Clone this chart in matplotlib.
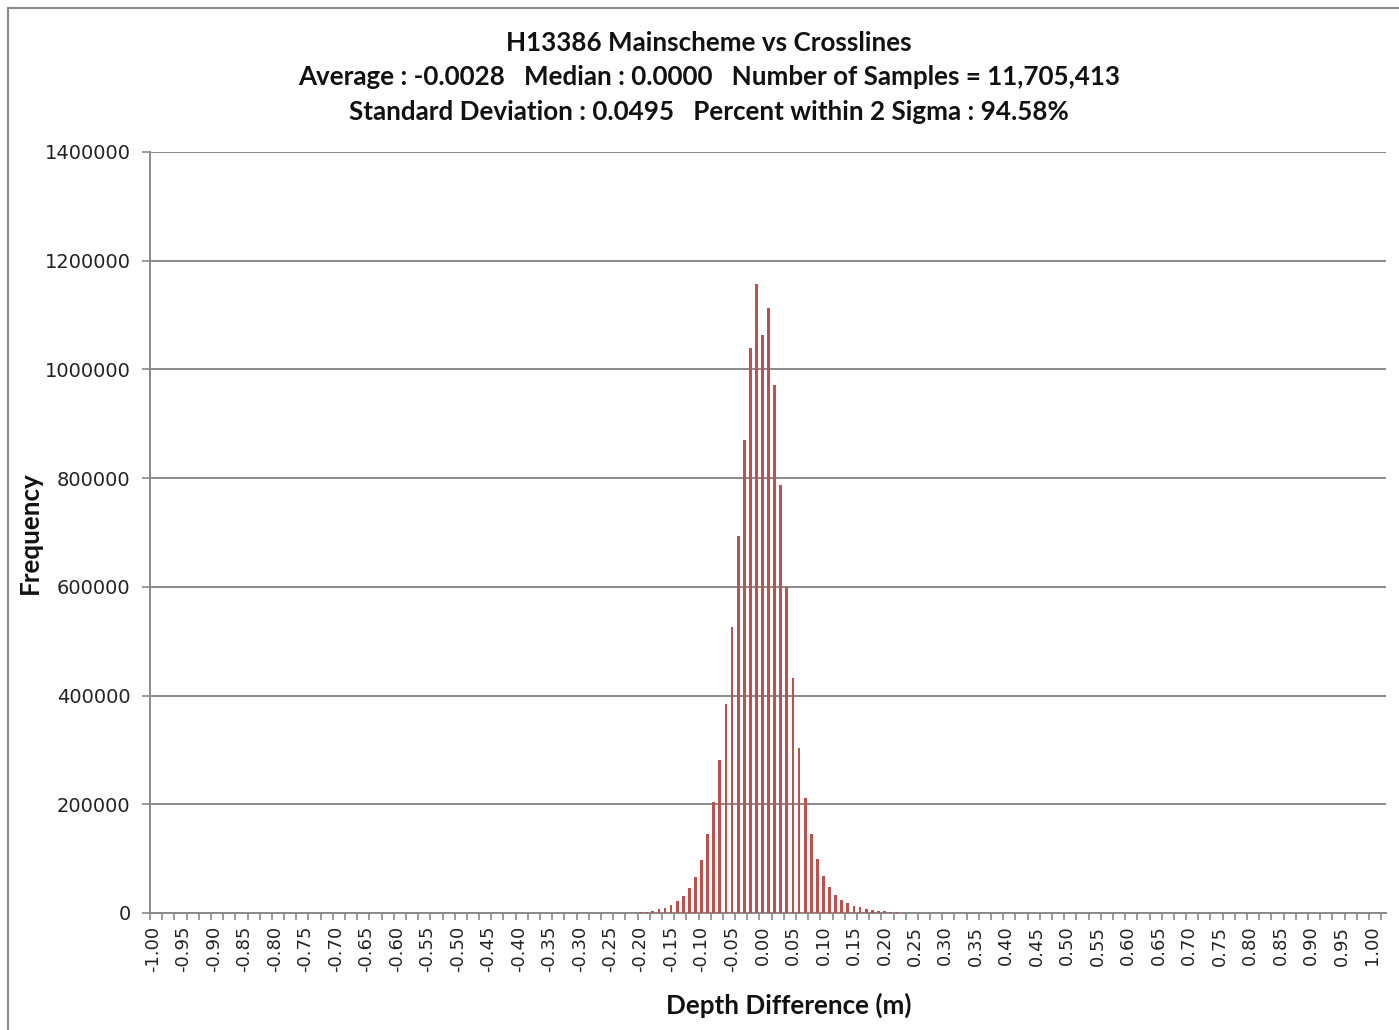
import matplotlib
matplotlib.use("agg")
import matplotlib.pyplot as plt
from matplotlib.lines import Line2D
from matplotlib.ticker import StrMethodFormatter
import numpy as np

# histogram bins: -1.00 .. 1.00 in 0.01 steps, only the centre has counts
bin_lo, bin_hi = -1.00, 1.00
nz_start = -0.20
nz_counts = [
    1500, 2500, 4500, 7000, 10000, 15000, 22000, 32000, 46000, 67000,
    98000, 145000, 205000, 282000, 385000, 527000, 693000, 870000, 1040000, 1158000,
    1063000, 1113000, 972000, 788000, 599000, 433000, 303000, 211000, 145000, 100000,
    68000, 47000, 34000, 24000, 18000, 12000, 11000, 7000, 5000, 4000,
    3000, 2000, 1500, 800,
]

title_lines = [
    "H13386 Mainscheme vs Crosslines",
    "Average : -0.0028   Median : 0.0000   Number of Samples = 11,705,413",
    "Standard Deviation : 0.0495   Percent within 2 Sigma : 94.58%",
]
x_label = "Depth Difference (m)"
y_label = "Frequency"

bins = np.round(np.linspace(bin_lo, bin_hi, 201), 2)
counts = np.zeros_like(bins)
i0 = int(round((nz_start - bin_lo) / 0.01))
counts[i0:i0 + len(nz_counts)] = nz_counts

W, H = 1399, 1030
fig = plt.figure(figsize=(W / 100, H / 100), dpi=100)
ax = fig.add_axes([150 / W, 1 - 913 / H, (1386 - 150) / W, (913 - 152) / H])

grey = "#8a8a8a"
ax.bar(bins, counts, width=0.0046, color="#c0504d", zorder=3)

ax.set_xlim(-1.005, 1.023)
ax.set_ylim(0, 1400000)
ax.set_yticks(np.arange(0, 1400001, 200000))
ax.yaxis.set_major_formatter(StrMethodFormatter("{x:.0f}"))
ax.yaxis.grid(True, color=grey, lw=1.4, zorder=0)

major = np.round(np.arange(-20, 21) * 0.05, 2)
ax.set_xticks(major)
ax.set_xticklabels([f"{v:.2f}" for v in major], rotation=90, fontsize=13,
                   family="DejaVu Sans", color="#222222")
ax.set_xticks(np.arange(-1.005, 1.024, 0.02), minor=True)
ax.tick_params(axis="x", which="major", length=0, pad=9)
ax.tick_params(axis="x", which="minor", length=5, width=1.2, color=grey, direction="out")
ax.tick_params(axis="y", length=6, width=1.2, color=grey, labelsize=14,
               labelcolor="#222222", pad=8)

for s in ("top", "right"):
    ax.spines[s].set_visible(False)
for s in ("left", "bottom"):
    ax.spines[s].set_color(grey)
    ax.spines[s].set_linewidth(1.4)

tfont = dict(family="Lato", weight="bold", fontsize=18.7, color="#111111",
             ha="center", va="center")
for line, yc in zip(title_lines, [43, 77, 112]):
    fig.text(709 / W, 1 - yc / H, line, **tfont)

fig.text(789 / W, 1 - 1005 / H, x_label, **tfont)
fig.text(30 / W, 1 - 533 / H, y_label, rotation=90, **tfont)

# chart-area outline (top and left visible)
fig.add_artist(Line2D([8 / W, 8 / W], [0, 1 - 8 / H], transform=fig.transFigure,
                      color=grey, lw=1.5))
fig.add_artist(Line2D([8 / W, 1], [1 - 8 / H, 1 - 8 / H], transform=fig.transFigure,
                      color=grey, lw=1.5))

fig.savefig("out.png", dpi=100)
